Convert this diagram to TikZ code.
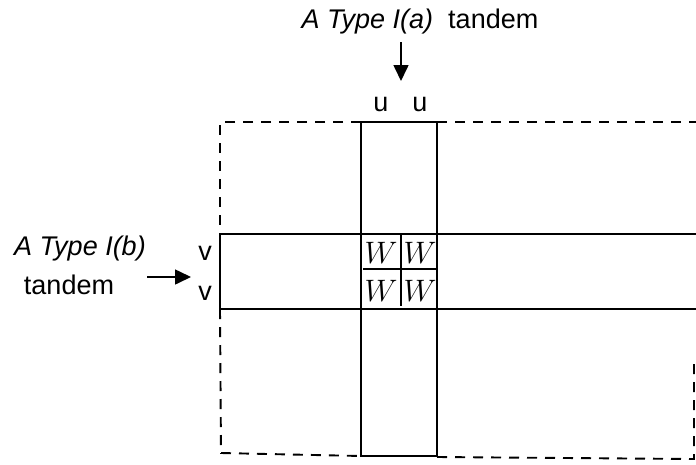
\documentclass[tikz,border=0pt]{standalone}
\usepackage{fix-cm}
\usepackage{fontspec}
\setmainfont{Liberation Sans}
\usetikzlibrary{arrows.meta,positioning,calc}

\tikzset{
  lbl/.style={font=\fontsize{27}{31}\selectfont, inner sep=0pt},
  wlbl/.style={font=\fontsize{31}{34}\selectfont, inner sep=0pt},
  band/.style={line width=1.9pt},
  edge/.style={line width=1.9pt, dash pattern=on 10pt off 8pt},
  pointer/.style={line width=1.6pt, -{Triangle[length=16pt,width=15pt]}}
}

\begin{document}
\begin{tikzpicture}[x=1pt,y=-1pt]
  \useasboundingbox (0,0) rectangle (696,464);
  % labels
  \node[lbl] (ttla) at (420,22) {\textit{A Type I(a)}\ \ tandem};
  \node[lbl] (ttlb) at (80,249) {\textit{A Type I(b)}};
  \node[lbl] (tand) at (69,285) {tandem};
  \node[lbl] (u1) at (381,104) {u};
  \node[lbl] (u2) at (420,104) {u};
  \node[lbl] (v1) at (205,253) {v};
  \node[lbl] (v2) at (205,293) {v};
  \coordinate (atop) at (401,42);
  \coordinate (abot) at (401,81);
  \coordinate (bleft) at (147,277);
  \coordinate (bright) at (191,277);
  \draw[pointer] (atop) -- (abot);
  \draw[pointer] (bleft) -- (bright);
  % dashed outline of the matrix
  \draw[edge] (361,122) -- (220,122) -- (220,234);
  \draw[edge] (220,309) -- (221,453) -- (361,456);
  \draw[edge] (437,122) -- (696,122);
  \draw[edge] (437,457) -- (694,459) -- (694,360);
  % the two tandem bands
  \draw[band] (361,122) rectangle (437,456);
  \draw[band] (696,234) -- (220,234) -- (220,309) -- (696,309);
  % inner cells
  \draw[band] (401,234) -- (401,306);
  \draw[band] (363,269) -- (437,269);
  \node[wlbl] (w11) at (381,253) {$W$};
  \node[wlbl] (w12) at (420,253) {$W$};
  \node[wlbl] (w21) at (381,291) {$W$};
  \node[wlbl] (w22) at (420,291) {$W$};
\end{tikzpicture}
\end{document}
